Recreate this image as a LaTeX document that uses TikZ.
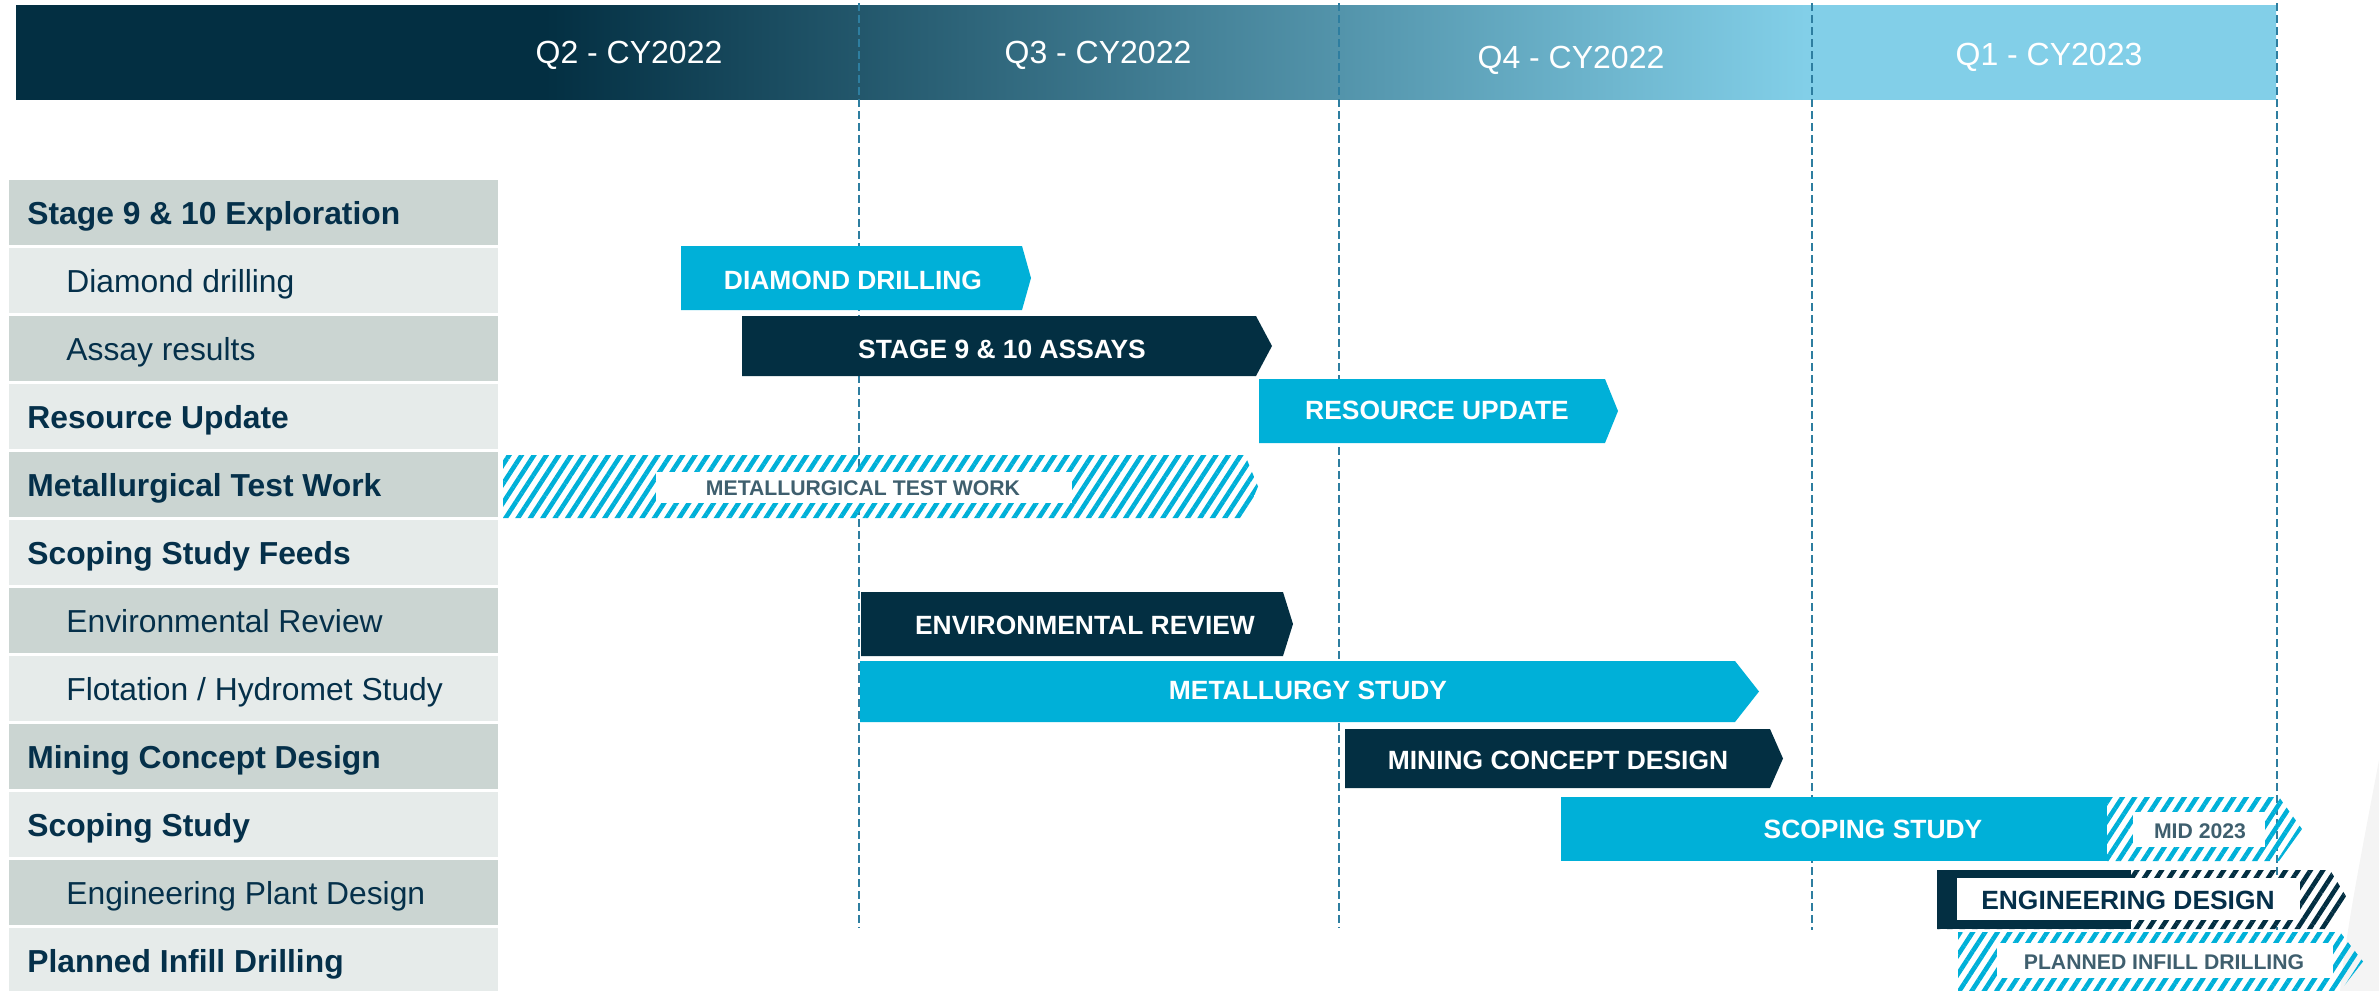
\documentclass[tikz,border=0pt]{standalone}
\usepackage{fontspec}
\setmainfont{Liberation Sans}
\usetikzlibrary{patterns.meta}
\definecolor{navy}{HTML}{032F42}
\definecolor{cyanbar}{HTML}{00B0D8}
\definecolor{hdrlight}{HTML}{82CFE8}
\definecolor{rowdark}{HTML}{CBD5D2}
\definecolor{rowlight}{HTML}{E6EBEA}
\definecolor{textnavy}{HTML}{05304A}
\definecolor{graylbl}{HTML}{3F5F6E}
\definecolor{dashcol}{HTML}{2E7EA0}
\definecolor{swoosh}{HTML}{F4F4F4}
\pgfdeclarehorizontalshading{hdrshade}{100bp}{color(0bp)=(navy); color(36.7bp)=(navy); color(64.6bp)=(hdrlight); color(100bp)=(hdrlight)}
\newcommand\ganttbar[6]{\fill[#6] (#1,#2) -- (#3,#2) -- (#5,{(#2+#4)/2}) -- (#3,#4) -- (#1,#4) -- cycle;}
\tikzset{
  hdrtxt/.style={anchor=base,inner sep=0pt,text=white,font=\fontsize{16}{19}\selectfont},
  mainlbl/.style={anchor=base west,inner sep=0pt,text=textnavy,font=\bfseries\fontsize{15.9}{18}\selectfont},
  sublbl/.style={anchor=base west,inner sep=0pt,text=textnavy,font=\fontsize{15.9}{18}\selectfont},
  barlbl/.style={anchor=center,inner sep=0pt,text=white,font=\bfseries\fontsize{13.2}{15}\selectfont},
  smalllbl/.style={anchor=center,inner sep=0pt,text=graylbl,font=\bfseries\fontsize{10.6}{12}\selectfont},
  dashline/.style={draw=dashcol,line width=0.8pt,dash pattern=on 4pt off 2pt},
  hatchcyan/.style={pattern={Lines[angle=57,distance=5.2pt,line width=2.3pt]},pattern color=cyanbar},
  hatchnavy/.style={pattern={Lines[angle=57,distance=5.2pt,line width=2.3pt]},pattern color=navy},
}
\begin{document}
\begin{tikzpicture}[x=0.5pt,y=-0.5pt]
\useasboundingbox (0,0) rectangle (2379,991);
% background swoosh
\fill[swoosh] (2379,760) .. controls (2362,850) and (2346,930) .. (2340,991) -- (2379,991) -- cycle;
% header
\shade[shading=hdrshade] (16,5) rectangle (2276,99);
\node[hdrtxt] (q2) at (629,63) {Q2 - CY2022};
\node[hdrtxt] (q3) at (1098,63) {Q3 - CY2022};
\node[hdrtxt] (q4) at (1571,68) {Q4 - CY2022};
\node[hdrtxt] (q1) at (2049,65) {Q1 - CY2023};
% quarter dividers
\coordinate (d1t) at (859,3); \coordinate (d1b) at (859,928);
\coordinate (d2t) at (1339,3); \coordinate (d2b) at (1339,928);
\coordinate (d3t) at (1812,3); \coordinate (d3b) at (1812,930);
\coordinate (d4t) at (2277,3); \coordinate (d4b) at (2277,930);
\draw[dashline] (d1t) -- (d1b);
\draw[dashline] (d2t) -- (d2b);
\draw[dashline] (d3t) -- (d3b);
\draw[dashline] (d4t) -- (d4b);
% rows
\foreach \k in {0,...,11}{
  \pgfmathtruncatemacro{\odd}{mod(\k,2)}
  \ifnum\odd=0 \def\rc{rowdark}\else\def\rc{rowlight}\fi
  \fill[\rc] (9,{180+68*\k}) rectangle (498,{245+68*\k});
}
\node[mainlbl] (r0) at (27,224) {Stage 9 \& 10 Exploration};
\node[sublbl]  (r1) at (66,292) {Diamond drilling};
\node[sublbl]  (r2) at (66,360) {Assay results};
\node[mainlbl] (r3) at (27,428) {Resource Update};
\node[mainlbl] (r4) at (27,496) {Metallurgical Test Work};
\node[mainlbl] (r5) at (27,564) {Scoping Study Feeds};
\node[sublbl]  (r6) at (66,632) {Environmental Review};
\node[sublbl]  (r7) at (66,700) {Flotation / Hydromet Study};
\node[mainlbl] (r8) at (27,768) {Mining Concept Design};
\node[mainlbl] (r9) at (27,836) {Scoping Study};
\node[sublbl]  (r10) at (66,904) {Engineering Plant Design};
\node[mainlbl] (r11) at (27,972) {Planned Infill Drilling};
% bars
\ganttbar{681}{246}{1022}{310}{1031}{cyanbar}
\node[barlbl] (b1) at (853,280) {DIAMOND DRILLING};
\ganttbar{742}{316}{1256}{376}{1272}{navy}
\node[barlbl] (b2) at (1002,349) {STAGE 9 \& 10 ASSAYS};
\ganttbar{1259}{379}{1605}{443}{1618}{cyanbar}
\node[barlbl] (b3) at (1437,410) {RESOURCE UPDATE};
\ganttbar{503}{455}{1245}{518}{1258}{hatchcyan}
\fill[white] (656,472) rectangle (1072,503);
\node[smalllbl] (b4) at (863,488) {METALLURGICAL TEST WORK};
\ganttbar{861}{592}{1283}{656}{1293}{navy}
\node[barlbl] (b5) at (1085,625) {ENVIRONMENTAL REVIEW};
\ganttbar{860}{661}{1735}{722}{1759}{cyanbar}
\node[barlbl] (b6) at (1308,690) {METALLURGY STUDY};
\ganttbar{1345}{729}{1770}{788}{1783}{navy}
\node[barlbl] (b7) at (1558,760) {MINING CONCEPT DESIGN};
% scoping study
\fill[cyanbar] (1561,797) rectangle (2107,861);
\ganttbar{2107}{797}{2279}{861}{2302}{hatchcyan}
\fill[white] (2133,812) rectangle (2265,847);
\node[barlbl] (b8) at (1873,829) {SCOPING STUDY};
\node[smalllbl] (b8m) at (2200,831) {MID 2023};
% engineering design
\ganttbar{1937}{870}{2330}{929}{2348}{hatchnavy}
\fill[navy] (1937,870) rectangle (2131,929);
\fill[white] (1957,878) rectangle (2300,920);
\node[barlbl,text=textnavy] (b9) at (2128,900) {ENGINEERING DESIGN};
% planned infill drilling
\ganttbar{1958}{932}{2340}{991}{2363}{hatchcyan}
\fill[white] (1997,943) rectangle (2333,978);
\node[smalllbl] (b10) at (2164,962) {PLANNED INFILL DRILLING};
\end{tikzpicture}
\end{document}
